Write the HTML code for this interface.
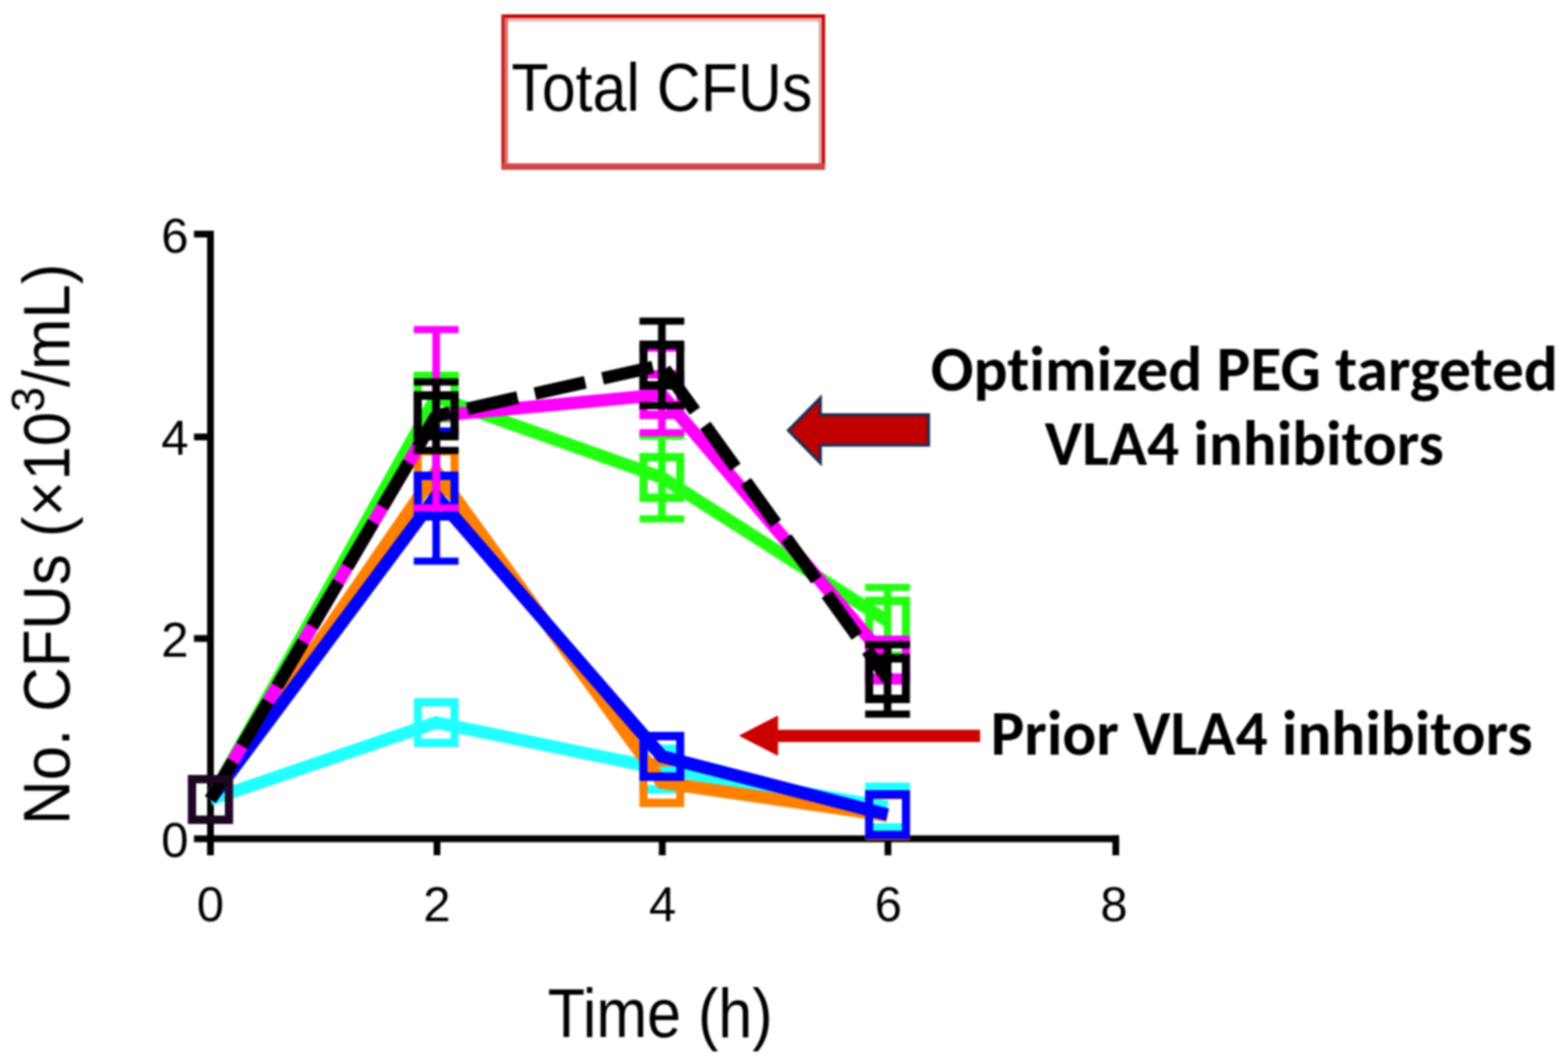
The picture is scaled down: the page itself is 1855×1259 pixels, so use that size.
<!DOCTYPE html>
<html><head><meta charset="utf-8"><title>Total CFUs</title>
<style>html,body{margin:0;padding:0;background:#fff;}text{font-variant-ligatures:none;font-kerning:normal;}svg{display:block;filter:blur(0.8px);}</style></head>
<body>
<svg width="1855" height="1259" viewBox="0 0 1855 1259">
<rect width="1855" height="1259" fill="#fff"/>

<g>
  <rect x="593" y="17" width="383" height="4.5" fill="#c80000"/>
  <rect x="597" y="21.5" width="375" height="4" fill="#eab4b4"/>
  <rect x="593" y="17" width="4" height="184" fill="#c82020"/>
  <rect x="597" y="21.5" width="4" height="172" fill="#e07272"/>
  <rect x="968.5" y="21.5" width="4" height="172" fill="#e8a4a4"/>
  <rect x="972.3" y="17" width="3.8" height="184" fill="#c00000"/>
  <rect x="593" y="193.3" width="383" height="7.7" fill="#d04848"/>
</g>

<g fill="#000">
  <rect x="245" y="273" width="8" height="739"/>
  <rect x="229.5" y="988.5" width="1094.5" height="8"/>
  <rect x="229.5" y="273" width="20" height="8"/>
  <rect x="229.5" y="513" width="20" height="8"/>
  <rect x="229.5" y="751.5" width="20" height="8"/>
  <rect x="513" y="990" width="8" height="22"/>
  <rect x="779.5" y="990" width="8" height="22"/>
  <rect x="1046.5" y="990" width="8" height="22"/>
  <rect x="1316" y="988.5" width="8" height="23.5"/>
</g>
<g id="s-cyan"><path d="M249 946 L516 855 L783 910 L1050 955" stroke="#22ffff" stroke-width="15" fill="none" stroke-linejoin="miter"/><path fill="#22ffff" fill-rule="evenodd" d="M222.5 917.0h53v58h-53zM232.0 927.0v38h34.0v-38z"/><path fill="#22ffff" fill-rule="evenodd" d="M489.5 826.0h53v58h-53zM499.0 836.0v38h34.0v-38z"/><path fill="#22ffff" fill-rule="evenodd" d="M756.5 881.0h53v58h-53zM766.0 891.0v38h34.0v-38z"/><path fill="#22ffff" fill-rule="evenodd" d="M1023.5 926.0h53v58h-53zM1033.0 936.0v38h34.0v-38z"/></g>
<g id="s-orange"><path d="M249 946 L516 558 L783 926 L1050 965" stroke="#ff8000" stroke-width="15" fill="none" stroke-linejoin="miter"/><path fill="#ff8000" fill-rule="evenodd" d="M222.5 917.0h53v58h-53zM232.0 927.0v38h34.0v-38z"/><path fill="#ff8000" fill-rule="evenodd" d="M489.5 529.0h53v58h-53zM499.0 539.0v38h34.0v-38z"/><path fill="#ff8000" fill-rule="evenodd" d="M756.5 897.0h53v58h-53zM766.0 907.0v38h34.0v-38z"/><path fill="#ff8000" fill-rule="evenodd" d="M1023.5 936.0h53v58h-53zM1033.0 946.0v38h34.0v-38z"/></g>
<g id="s-blue"><path stroke="#0000ff" stroke-width="9" fill="none" d="M516 510V664"/><path stroke="#0000ff" stroke-width="8.5" fill="none" d="M489.5 510h53M489.5 664h53"/><path d="M249 946 L516 587 L783 895 L1050 964" stroke="#0000ff" stroke-width="15" fill="none" stroke-linejoin="miter"/><path fill="#0000ff" fill-rule="evenodd" d="M222.5 917.0h53v58h-53zM232.0 927.0v38h34.0v-38z"/><path fill="#0000ff" fill-rule="evenodd" d="M489.5 558.0h53v58h-53zM499.0 568.0v38h34.0v-38z"/><path fill="#0000ff" fill-rule="evenodd" d="M756.5 866.0h53v58h-53zM766.0 876.0v38h34.0v-38z"/><path fill="#0000ff" fill-rule="evenodd" d="M1023.5 935.0h53v58h-53zM1033.0 945.0v38h34.0v-38z"/></g>
<g id="s-green"><path stroke="#22ff11" stroke-width="9" fill="none" d="M516 444V496"/><path stroke="#22ff11" stroke-width="8.5" fill="none" d="M489.5 444h53M489.5 496h53"/><path stroke="#22ff11" stroke-width="9" fill="none" d="M783 516V614"/><path stroke="#22ff11" stroke-width="8.5" fill="none" d="M756.5 516h53M756.5 614h53"/><path stroke="#22ff11" stroke-width="9" fill="none" d="M1050 695V775"/><path stroke="#22ff11" stroke-width="8.5" fill="none" d="M1023.5 695h53M1023.5 775h53"/><path d="M249 946 L516 470 L783 565 L1050 735" stroke="#22ff11" stroke-width="15" fill="none" stroke-linejoin="miter"/><path fill="#22ff11" fill-rule="evenodd" d="M222.5 917.0h53v58h-53zM232.0 927.0v38h34.0v-38z"/><path fill="#22ff11" fill-rule="evenodd" d="M489.5 441.0h53v58h-53zM499.0 451.0v38h34.0v-38z"/><path fill="#22ff11" fill-rule="evenodd" d="M756.5 536.0h53v58h-53zM766.0 546.0v38h34.0v-38z"/><path fill="#22ff11" fill-rule="evenodd" d="M1023.5 706.0h53v58h-53zM1033.0 716.0v38h34.0v-38z"/></g>
<g id="s-magenta"><path stroke="#ff00ff" stroke-width="9" fill="none" d="M516 390V601"/><path stroke="#ff00ff" stroke-width="8.5" fill="none" d="M489.5 390h53M489.5 601h53"/><path stroke="#ff00ff" stroke-width="9" fill="none" d="M783 412V512"/><path stroke="#ff00ff" stroke-width="8.5" fill="none" d="M756.5 412h53M756.5 512h53"/><path stroke="#ff00ff" stroke-width="9" fill="none" d="M1050 761V801"/><path stroke="#ff00ff" stroke-width="8.5" fill="none" d="M1023.5 761h53M1023.5 801h53"/><path d="M249 946 L516 492 L783 467 L1050 781" stroke="#ff00ff" stroke-width="15" fill="none" stroke-linejoin="miter"/><path fill="#ff00ff" fill-rule="evenodd" d="M222.5 917.0h53v58h-53zM232.0 927.0v38h34.0v-38z"/><path fill="#ff00ff" fill-rule="evenodd" d="M489.5 463.0h53v58h-53zM499.0 473.0v38h34.0v-38z"/><path fill="#ff00ff" fill-rule="evenodd" d="M756.5 438.0h53v58h-53zM766.0 448.0v38h34.0v-38z"/><path fill="#ff00ff" fill-rule="evenodd" d="M1023.5 752.0h53v58h-53zM1033.0 762.0v38h34.0v-38z"/></g>
<g id="s-black"><path stroke="#000000" stroke-width="9" fill="none" d="M516 452V533"/><path stroke="#000000" stroke-width="8.5" fill="none" d="M489.5 452h53M489.5 533h53"/><path stroke="#000000" stroke-width="9" fill="none" d="M783 380V480"/><path stroke="#000000" stroke-width="8.5" fill="none" d="M756.5 380h53M756.5 480h53"/><path stroke="#000000" stroke-width="9" fill="none" d="M1050 763V845"/><path stroke="#000000" stroke-width="8.5" fill="none" d="M1023.5 763h53M1023.5 845h53"/><path d="M249 946L516 492" stroke="#000000" stroke-width="15" fill="none" stroke-dasharray="61 21" stroke-dashoffset="8.5"/><path d="M516 492L783 432" stroke="#000000" stroke-width="15" fill="none" stroke-dasharray="61 21" stroke-dashoffset="44.2"/><path d="M783 432L1050 803" stroke="#000000" stroke-width="15" fill="none" stroke-dasharray="61 21" stroke-dashoffset="76"/><path fill="#1e0622" fill-rule="evenodd" d="M222.5 917.0h53v58h-53zM232.0 927.0v38h34.0v-38z"/><path fill="#000000" fill-rule="evenodd" d="M489.5 463.0h53v58h-53zM499.0 473.0v38h34.0v-38z"/><path fill="#000000" fill-rule="evenodd" d="M756.5 403.0h53v58h-53zM766.0 413.0v38h34.0v-38z"/><path fill="#000000" fill-rule="evenodd" d="M1023.5 774.0h53v58h-53zM1033.0 784.0v38h34.0v-38z"/></g>

<path d="M932.7 509.3 L970.5 471 V490.8 H1098.5 V526.8 H970.5 V547.6 Z" fill="#c00000" stroke="#1f2d50" stroke-width="3.6" stroke-linejoin="miter"/>
<path d="M874 870.5 L920.5 846.5 V863.5 H1159.5 V878 H920.5 V894.5 Z" fill="#cc0000"/>


<g font-family='"Liberation Sans", Arial, Helvetica, sans-serif' fill="#000">
  <text x="783" y="130.5" font-size="79" text-anchor="middle" textLength="356" lengthAdjust="spacingAndGlyphs">Total CFUs</text>
  <g font-size="58">
    <text x="207" y="299" text-anchor="middle">6</text>
    <text x="207" y="538" text-anchor="middle">4</text>
    <text x="207" y="777" text-anchor="middle">2</text>
    <text x="207" y="1014" text-anchor="middle">0</text>
    <text x="249" y="1090" text-anchor="middle">0</text>
    <text x="517" y="1090" text-anchor="middle">2</text>
    <text x="784" y="1090" text-anchor="middle">4</text>
    <text x="1051" y="1090" text-anchor="middle">6</text>
    <text x="1318" y="1090" text-anchor="middle">8</text>
  </g>
  <text x="781" y="1227" font-size="81" text-anchor="middle" textLength="266" lengthAdjust="spacingAndGlyphs">Time (h)</text>
  <text transform="translate(82 644) rotate(-90)" font-size="77" text-anchor="middle" textLength="664" lengthAdjust="spacingAndGlyphs">No. CFUs (×10<tspan font-size="56" dy="-30">3</tspan><tspan dy="30">/mL)</tspan></text>
</g>
<g font-family='Carlito, Calibri, "Liberation Sans", sans-serif' font-weight="bold" fill="#000" font-size="74">
  <text x="1101" y="462" textLength="742" lengthAdjust="spacingAndGlyphs">Optimized PEG targeted</text>
  <text x="1236" y="550" textLength="472" lengthAdjust="spacingAndGlyphs">VLA4 inhibitors</text>
  <text x="1172" y="893" textLength="641" lengthAdjust="spacingAndGlyphs">Prior VLA4 inhibitors</text>
</g>
</svg>
</body></html>
